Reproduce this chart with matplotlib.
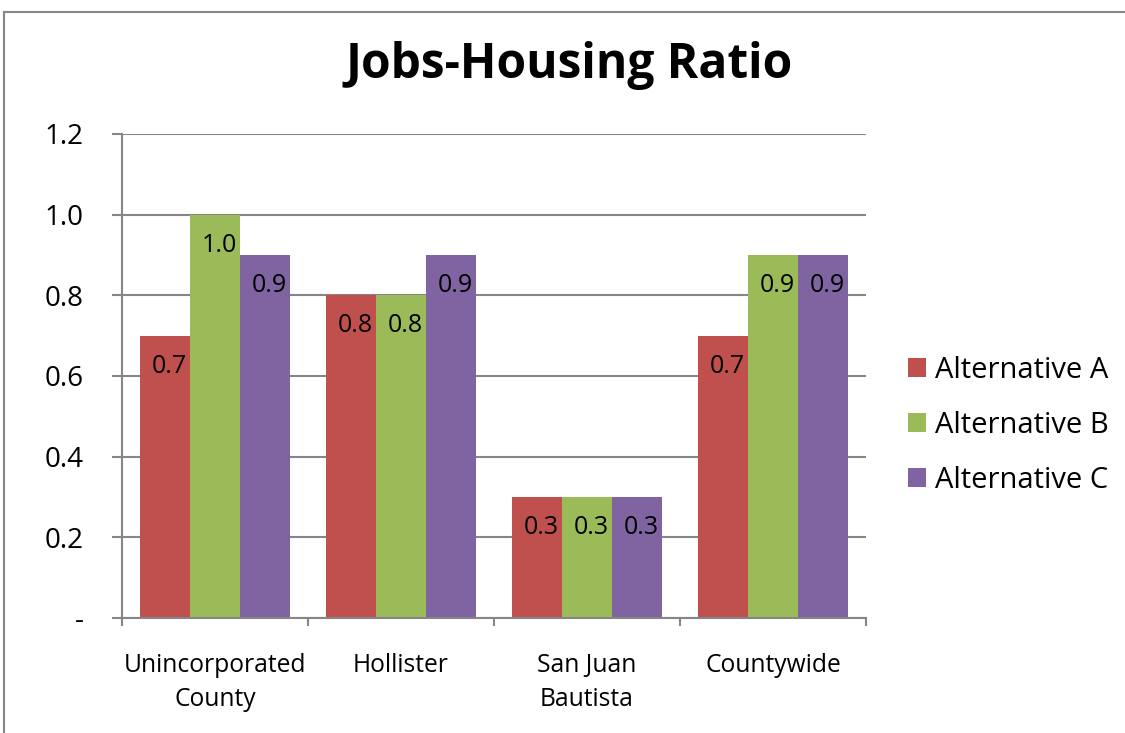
import numpy as np
import matplotlib.pyplot as plt
from matplotlib.lines import Line2D

plt.rcParams["font.family"] = ["Open Sans", "DejaVu Sans"]

# --- data ---
categories = ["Unincorporated\nCounty", "Hollister", "San Juan\nBautista", "Countywide"]
series_names = ["Alternative A", "Alternative B", "Alternative C"]
alt_a = [0.7, 0.8, 0.3, 0.7]
alt_b = [1.0, 0.8, 0.3, 0.9]
alt_c = [0.9, 0.9, 0.3, 0.9]
colors = ["#C0504D", "#9BBB59", "#8064A2"]
y_ticks = [0.0, 0.2, 0.4, 0.6, 0.8, 1.0, 1.2]
y_tick_labels = ["-", "0.2", "0.4", "0.6", "0.8", "1.0", "1.2"]

grid_gray = "#868686"

fig = plt.figure(figsize=(11.25, 7.33), dpi=100)
ax = fig.add_axes([0.1084, 0.1569, 0.6613, 0.6603])

x = np.arange(len(categories))
bar_w = 0.2688
for i, (vals, name, col) in enumerate(zip([alt_a, alt_b, alt_c], series_names, colors)):
    pos = x + (i - 1) * bar_w
    bars = ax.bar(pos, vals, width=bar_w, color=col, label=name, zorder=3)
    for b, v in zip(bars, vals):
        ax.annotate(f"{v:.1f}", xy=(b.get_x() + b.get_width() / 2, v),
                    xytext=(3, -22), textcoords="offset points",
                    ha="center", va="center", fontsize=18, color="black", zorder=4)

# axes and grid
ax.set_xlim(-0.5, len(categories) - 0.5)
ax.set_ylim(0, 1.2)
ax.set_yticks(y_ticks)
ax.set_yticklabels(y_tick_labels, fontsize=20)
ax.yaxis.grid(True, color=grid_gray, linewidth=1.5, zorder=0)
ax.tick_params(axis="y", length=7.5, width=1.5, color=grid_gray, pad=20)

# category labels at centers, tick marks between categories
ax.set_xticks(np.arange(-0.5, len(categories), 1.0))
ax.set_xticklabels([])
ax.set_xticks(x, minor=True)
ax.set_xticklabels(categories, minor=True, fontsize=17.7, linespacing=1.5)
ax.tick_params(axis="x", which="major", length=6, width=1.5, color=grid_gray)
ax.tick_params(axis="x", which="minor", length=0, pad=25)

for side in ["top", "right"]:
    ax.spines[side].set_visible(False)
for side in ["left", "bottom"]:
    ax.spines[side].set_color(grid_gray)
    ax.spines[side].set_linewidth(1.5)
    ax.spines[side].set_zorder(5)

# legend
ax.legend(loc="center left", bbox_to_anchor=(0.807, 0.420), bbox_transform=fig.transFigure,
          frameon=False, fontsize=21, handlelength=0.62, handleheight=0.62,
          handletextpad=0.3, labelspacing=0.89, borderpad=0, borderaxespad=0)

# title
fig.text(0.506, 0.8936, "Jobs-Housing Ratio", ha="center", va="baseline",
         fontsize=34.5, fontweight="bold")

# chart border (top and left edges)
fig.add_artist(Line2D([4 / 1125, 1], [1 - 12 / 733, 1 - 12 / 733], transform=fig.transFigure,
                      color=grid_gray, linewidth=1.5))
fig.add_artist(Line2D([4 / 1125, 4 / 1125], [0, 1 - 12 / 733], transform=fig.transFigure,
                      color=grid_gray, linewidth=1.5))

fig.savefig("out.png", dpi=100)
